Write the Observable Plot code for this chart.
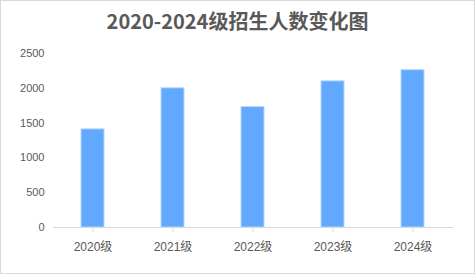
<!DOCTYPE html>
<html>
<head>
<meta charset="utf-8">
<script src="https://cdn.jsdelivr.net/npm/d3@7"></script>
<script src="https://cdn.jsdelivr.net/npm/@observablehq/plot@0.6"></script>
<style>
  html, body { margin: 0; padding: 0; background: #fff; }
  #chart {
    box-sizing: border-box;
    width: 475px; height: 274px;
    border: 1px solid #d9d9d9;
    background: #fff;
    overflow: hidden;
  }
  #title {
    height: 40px; line-height: 40px;
    text-align: center;
    font-family: "Noto Sans CJK SC", sans-serif;
    font-weight: bold;
    font-size: 20px;
    color: #595959;
  }
  svg { display: block; }
</style>
</head>
<body>
<div id="chart"><div id="title">2020-2024级招生人数变化图</div></div>
<script>
const categories = ["2020级", "2021级", "2022级", "2023级", "2024级"];
const values = [1410, 2000, 1730, 2100, 2260];
const yTicks = [0, 500, 1000, 1500, 2000, 2500];

const data = categories.map((c, i) => ({grade: c, count: values[i]}));

const plot = Plot.plot({
  width: 473,
  height: 232,
  marginLeft: 52,
  marginRight: 21,
  marginTop: 12,
  marginBottom: 46,
  style: {fontFamily: "'Liberation Sans', 'Noto Sans CJK SC', sans-serif", color: "#595959", background: "#fff"},
  x: {domain: categories, paddingInner: 0.71, paddingOuter: 0.355, label: null},
  y: {domain: [0, 2500], ticks: yTicks, label: null},
  marks: [
    Plot.axisY({ticks: yTicks, tickFormat: d => String(d), tickSize: 0, tickPadding: 9, fontSize: 11, fill: "#595959", label: null}),
    Plot.barY(data, {x: "grade", y: "count", fill: "#60a9ff", stroke: "#b5d6ff", strokeWidth: 1}),
    Plot.ruleY([0], {stroke: "#d9d9d9", strokeWidth: 1}),
    Plot.axisX({tickSize: 5, tickPadding: 10, stroke: "#d9d9d9", fontSize: 12, fill: "#595959", label: null})
  ]
});
document.getElementById("chart").appendChild(plot);
</script>
</body>
</html>
